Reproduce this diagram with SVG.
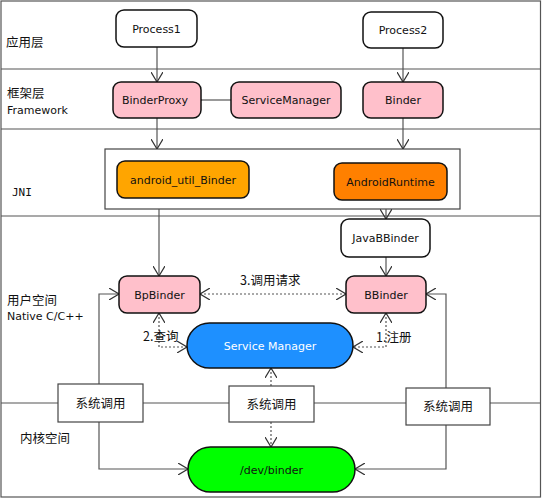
<svg xmlns="http://www.w3.org/2000/svg" width="543" height="499" viewBox="0 0 543 499">
<style>
.t{font-family:"DejaVu Sans","Noto Sans CJK SC",sans-serif;font-size:11px;fill:#111}
.c{font-family:"Noto Sans CJK SC","DejaVu Sans",sans-serif;font-size:12.5px;fill:#111}
.m{font-family:"DejaVu Sans Mono",monospace;font-size:11px;fill:#111}
.mid{text-anchor:middle}
.node{stroke:#111;stroke-width:1.5}
.ln{fill:none;stroke:#555;stroke-width:1.2}
.dt{fill:none;stroke:#555;stroke-width:1.2;stroke-dasharray:2,2}
.sep{stroke:#555;stroke-width:1.2}
</style>
<defs>
<marker id="a" viewBox="0 0 10 12" refX="10" refY="6" markerWidth="10" markerHeight="12" markerUnits="userSpaceOnUse" orient="auto-start-reverse">
<path d="M0,0 L10,6 L0,12" fill="none" stroke="#333" stroke-width="1.2"/>
</marker>
</defs>
<rect x="0" y="0" width="543" height="499" fill="#fff"/>
<rect x="1" y="1" width="539.5" height="496" fill="none" stroke="#555" stroke-width="1.2"/>
<g id="layers">
<line class="sep" x1="1" y1="69" x2="541" y2="69"/>
<line class="sep" x1="1" y1="129" x2="541" y2="129"/>
<line class="sep" x1="1" y1="216" x2="541" y2="216"/>
<line class="sep" x1="1" y1="403" x2="541" y2="403"/>
<text class="c" x="6" y="47">应用层</text>
<text class="c" x="7" y="98">框架层</text>
<text class="t" x="7" y="114">Framework</text>
<text class="m" x="12" y="196">JNI</text>
<text class="c" x="7" y="305">用户空间</text>
<text class="t" x="7" y="320">Native C/C++</text>
<text class="c" x="20" y="443">内核空间</text>
</g>
<g id="jni-box"><rect x="105" y="149" width="355" height="60" fill="#fff" stroke="#444" stroke-width="1.2"/></g>
<g id="connectors">
<line class="ln" x1="157" y1="47" x2="157" y2="82" marker-end="url(#a)"/>
<line class="ln" x1="403" y1="48" x2="403" y2="82" marker-end="url(#a)"/>
<line class="ln" x1="231" y1="100" x2="201" y2="100"/>
<polyline points="191,94 201,100 191,106" fill="none" stroke="#333" stroke-width="1.2"/>
<line class="ln" x1="157" y1="118" x2="157" y2="149" marker-end="url(#a)"/>
<line class="ln" x1="403" y1="118" x2="403" y2="149" marker-end="url(#a)"/>
<line class="ln" x1="159" y1="209" x2="159" y2="276" marker-end="url(#a)"/>
<line class="ln" x1="386" y1="209" x2="386" y2="219" marker-end="url(#a)"/>
<line class="ln" x1="386" y1="257" x2="386" y2="276" marker-end="url(#a)"/>
<line class="dt" x1="200" y1="294" x2="346" y2="294" marker-start="url(#a)" marker-end="url(#a)"/>
<polyline class="dt" points="159,313 159,347 187,347" marker-start="url(#a)" marker-end="url(#a)"/>
<polyline class="dt" points="386,313 386,347 353,347" marker-start="url(#a)" marker-end="url(#a)"/>
<line class="dt" x1="271" y1="386" x2="271" y2="368" marker-end="url(#a)"/>
<line class="dt" x1="271" y1="422" x2="271" y2="447" marker-end="url(#a)"/>
<polyline class="ln" points="99,384 99,294 119,294" marker-end="url(#a)"/>
<polyline class="ln" points="99,422 99,469 188,469" marker-end="url(#a)"/>
<polyline class="ln" points="446,388 446,294 426,294" marker-end="url(#a)"/>
<polyline class="ln" points="446,425 446,469 355,469" marker-end="url(#a)"/>
<text class="c" x="240" y="285">3.调用请求</text>
<text class="c" x="143" y="341">2.查询</text>
<text class="c" x="376" y="342">1.注册</text>
</g>
<g id="process1"><rect class="node" x="116" y="10" width="81" height="37" rx="8" fill="#fff"/><text class="t mid" x="156.5" y="32.5">Process1</text></g>
<g id="process2"><rect class="node" x="363" y="12" width="80" height="36" rx="8" fill="#fff"/><text class="t mid" x="403" y="34">Process2</text></g>
<g id="binderproxy"><rect class="node" x="113" y="82" width="88" height="36" rx="8" fill="#ffc0cb"/><text class="t mid" x="155" y="104">BinderProxy</text></g>
<g id="servicemanager-java"><rect class="node" x="231" y="82" width="110" height="36" rx="8" fill="#ffc0cb"/><text class="t mid" x="286" y="104">ServiceManager</text></g>
<g id="binder"><rect class="node" x="363" y="82" width="80" height="36" rx="8" fill="#ffc0cb"/><text class="t mid" x="403" y="104">Binder</text></g>
<g id="android_util_binder"><rect class="node" x="117" y="161" width="132" height="37" rx="8" fill="#ffa500"/><text class="t mid" x="183" y="183.5">android_util_Binder</text></g>
<g id="androidruntime"><rect class="node" x="334" y="163" width="113" height="37" rx="8" fill="#ff8000"/><text class="t mid" x="390.5" y="185.5">AndroidRuntime</text></g>
<g id="javabbinder"><rect class="node" x="341" y="219" width="89" height="38" rx="8" fill="#fff"/><text class="t mid" x="385.5" y="242">JavaBBinder</text></g>
<g id="bpbinder"><rect class="node" x="119" y="276" width="81" height="37" rx="8" fill="#ffc0cb"/><text class="t mid" x="159.5" y="298.5">BpBinder</text></g>
<g id="bbinder"><rect class="node" x="346" y="276" width="80" height="37" rx="8" fill="#ffc0cb"/><text class="t mid" x="386" y="298.5">BBinder</text></g>
<g id="service-manager"><rect class="node" x="187" y="323" width="166" height="45" rx="22.5" fill="#1e90ff"/><text class="t mid" x="270" y="349.5" style="fill:#fff">Service Manager</text></g>
<g id="syscall-left"><rect x="58" y="384" width="85" height="38" fill="#fff" stroke="#444" stroke-width="1.2"/><text class="c mid" x="100.5" y="407.5">系统调用</text></g>
<g id="syscall-mid"><rect x="229" y="386" width="85" height="36" fill="#fff" stroke="#444" stroke-width="1.2"/><text class="c mid" x="271.5" y="408.5">系统调用</text></g>
<g id="syscall-right"><rect x="406" y="388" width="84" height="37" fill="#fff" stroke="#444" stroke-width="1.2"/><text class="c mid" x="448" y="411">系统调用</text></g>
<g id="dev-binder"><rect class="node" x="188" y="447" width="167" height="45" rx="22.5" fill="#00ff00"/><text class="t mid" x="271.5" y="473.5">/dev/binder</text></g>
</svg>
